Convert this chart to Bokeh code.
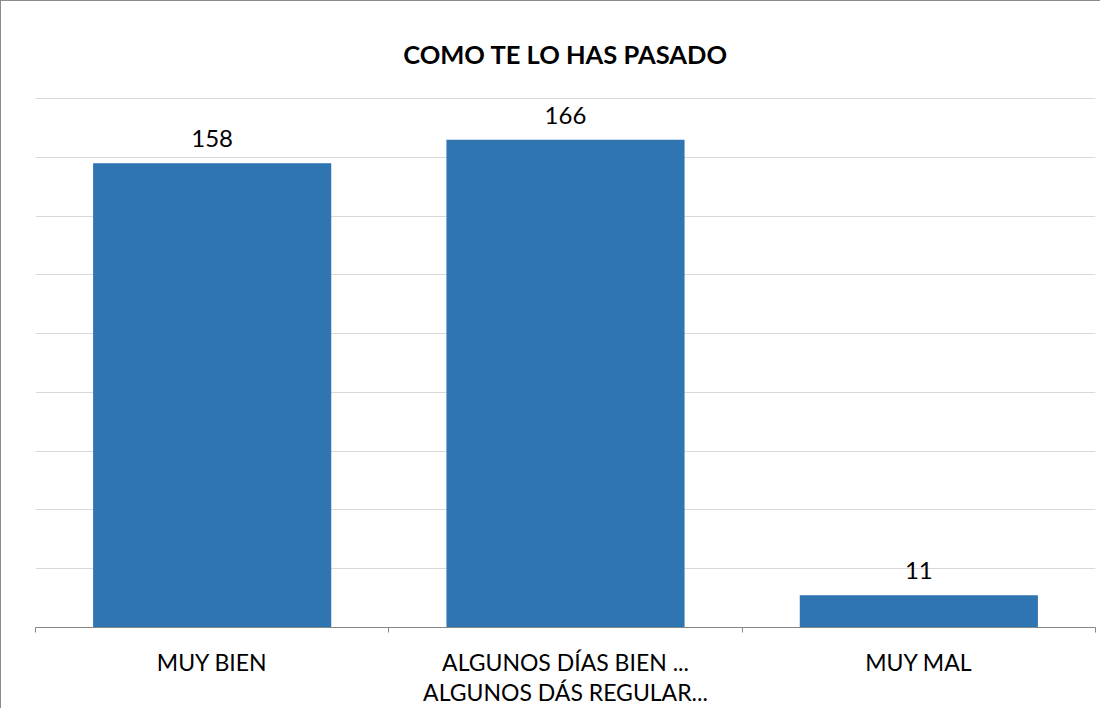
from bokeh.plotting import figure
from bokeh.models import ColumnDataSource, LabelSet, FixedTicker, Range1d
from bokeh.core.properties import value
from bokeh.embed import file_html
from bokeh.resources import INLINE

# ---- data ----
categories = ["MUY BIEN", "ALGUNOS DÍAS BIEN ...\nALGUNOS DÁS REGULAR...", "MUY MAL"]
values = [158, 166, 11]
title_text = "COMO TE LO HAS PASADO"
y_max = 180
grid_step = 20

x_pos = [i + 0.5 for i in range(len(categories))]
src = ColumnDataSource(dict(x=x_pos, top=values, label=[str(v) for v in values]))

p = figure(width=1100, height=708, output_backend="svg", toolbar_location=None,
           x_range=Range1d(0, len(categories)), y_range=Range1d(0, y_max + 0.35),
           min_border_left=34, min_border_right=6, min_border_top=96, min_border_bottom=80,
           title=title_text)
p.styles = {"border-left": "1px solid #8c8c8c", "border-top": "1px solid #8c8c8c"}

p.vbar(x="x", top="top", width=0.674, bottom=0, source=src,
       fill_color="#2E75B2", line_color=None)

labels = LabelSet(x="x", y="top", text="label", source=src, text_align="center",
                  text_baseline="alphabetic", y_offset=16, text_font=value("Lato"),
                  text_font_size="24px", text_color="#000000")
p.add_layout(labels)

p.title.align = "center"
p.title.text_font = "Lato"
p.title.text_font_style = "bold"
p.title.text_font_size = "25.5px"
p.title.text_line_height = 1.0
p.title.text_color = "#000000"
p.title.standoff = 58

p.yaxis.visible = False
p.xgrid.visible = False
p.ygrid.ticker = FixedTicker(ticks=list(range(0, y_max + 1, grid_step)))
p.ygrid.grid_line_color = "#D9D9D9"
p.ygrid.grid_line_width = 1

ax = p.xaxis[0]
ax.ticker = FixedTicker(ticks=x_pos, minor_ticks=list(range(len(categories) + 1)))
ax.major_label_overrides = {x: c for x, c in zip(x_pos, categories)}
ax.major_tick_line_color = None
ax.major_tick_out = 0
ax.major_tick_in = 0
ax.minor_tick_line_color = "#868686"
ax.minor_tick_out = 5
ax.minor_tick_in = 0
ax.axis_line_color = "#868686"
ax.axis_line_width = 1
ax.major_label_standoff = 15
ax.major_label_text_font = "Lato"
ax.major_label_text_font_size = "23px"
ax.major_label_text_line_height = 1.1
ax.major_label_text_color = "#000000"

p.outline_line_color = None
p.background_fill_color = "white"
p.border_fill_color = "white"

open("out.html", "w").write(file_html(p, INLINE))
